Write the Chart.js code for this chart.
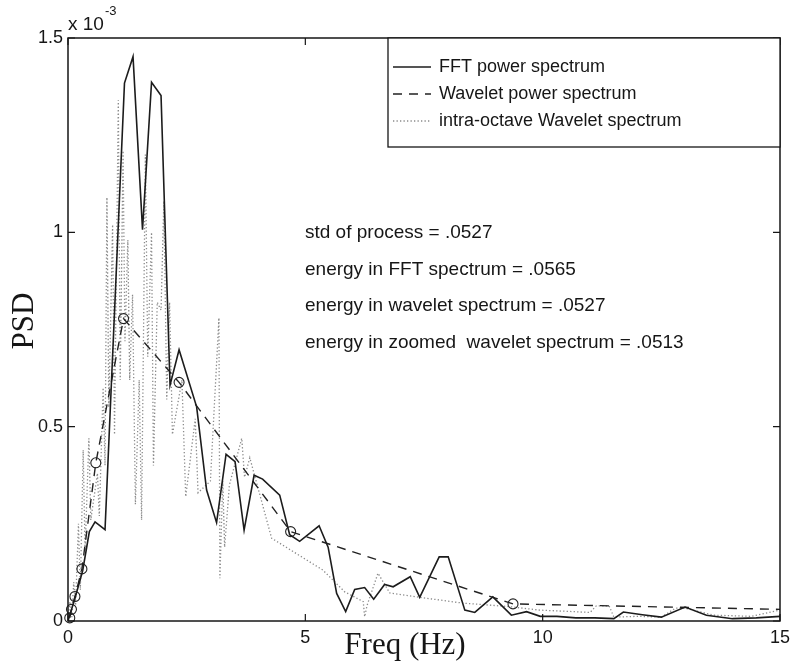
<!DOCTYPE html>
<html>
<head>
<meta charset="utf-8">
<title>PSD</title>
<script src="https://cdn.jsdelivr.net/npm/chart.js@4.4.1/dist/chart.umd.min.js"></script>
<style>
  body { margin: 0; background: #fff; }
  canvas { display: block; }
</style>
</head>
<body>
<canvas id="psdChart" width="792" height="662"></canvas>
<script>
// PSD values are in units of 1e-3
const fftFreq = [0, 0.05, 0.15, 0.31, 0.45, 0.57, 0.78, 1.19, 1.37, 1.57, 1.76, 1.96, 2.15, 2.34, 2.71, 2.92,
    3.13, 3.33, 3.52, 3.71, 3.92, 4.10, 4.46, 4.67, 4.88, 5.29, 5.48, 5.66, 5.85, 6.04, 6.25, 6.44, 6.67, 6.85,
    7.21, 7.41, 7.82, 8.01, 8.36, 8.57, 8.95, 9.34, 9.66, 9.95, 10.3, 10.7, 11.1, 11.5, 11.7, 12.1, 12.5, 13.0,
    13.45, 14.0, 14.5, 15.0];
const fftPsd = [0, 0.02, 0.06, 0.13, 0.23, 0.255, 0.235, 1.384, 1.452, 1.007, 1.386, 1.352, 0.607, 0.698, 0.551, 0.337,
    0.253, 0.429, 0.41, 0.234, 0.375, 0.365, 0.324, 0.222, 0.205, 0.245, 0.19, 0.071, 0.024, 0.081, 0.086, 0.056, 0.094, 0.088,
    0.114, 0.061, 0.165, 0.165, 0.028, 0.022, 0.062, 0.015, 0.024, 0.012, 0.012, 0.008, 0.008, 0.006, 0.023, 0.016, 0.01, 0.036,
    0.015, 0.006, 0.008, 0.012];

const waveletFreq = [0.037, 0.073, 0.146, 0.293, 0.586, 1.17, 2.34, 4.69, 9.375, 15];
const waveletPsd = [0.008, 0.03, 0.063, 0.134, 0.407, 0.778, 0.614, 0.23, 0.044, 0.03];

const intraFreq = [0, 0.04, 0.08, 0.12, 0.16, 0.22, 0.26, 0.32, 0.36, 0.44, 0.48, 0.62, 0.66, 0.74, 0.78, 0.82, 0.86,
    0.94, 0.98, 1.06, 1.10, 1.16, 1.20, 1.26, 1.30, 1.36, 1.42, 1.50, 1.55, 1.63, 1.68, 1.76, 1.80, 1.88, 1.96, 2.02,
    2.08, 2.14, 2.20, 2.40, 2.48, 2.68, 2.74, 3.00, 3.18, 3.20, 3.26, 3.30, 3.40, 3.66, 3.72, 3.83, 4.29, 5.37, 5.83,
    6.22, 6.25, 6.30, 6.53, 6.78, 7.34, 8.32, 9.30, 9.94, 10.5, 11.0, 11.13, 11.4, 11.5, 12.0, 12.5, 12.8, 13.0, 13.6,
    14.4, 15.0];
const intraPsd = [0, 0.05, 0.01, 0.10, 0.04, 0.25, 0.08, 0.44, 0.18, 0.47, 0.26, 0.38, 0.27, 0.60, 0.40, 1.09, 0.55,
    1.02, 0.48, 1.34, 0.62, 1.21, 0.72, 0.98, 0.62, 0.84, 0.30, 0.62, 0.26, 1.20, 0.68, 1.00, 0.40, 0.82, 0.80, 1.08,
    0.57, 0.82, 0.48, 0.62, 0.32, 0.52, 0.33, 0.36, 0.78, 0.11, 0.36, 0.19, 0.35, 0.47, 0.37, 0.42, 0.213, 0.131, 0.075,
    0.05, 0.011, 0.04, 0.123, 0.072, 0.062, 0.046, 0.037, 0.028, 0.025, 0.022, 0.039, 0.039, 0.01, 0.012, 0.01, 0.033, 0.033, 0.015,
    0.012, 0.028];

const xTicks = [0, 5, 10, 15];
const yTicks = [0, 0.5, 1, 1.5];

const seriesNames = ['FFT power spectrum', 'Wavelet power spectrum', 'intra-octave Wavelet spectrum'];
const notes = [
    'std of process = .0527',
    'energy in FFT spectrum = .0565',
    'energy in wavelet spectrum = .0527',
    'energy in zoomed  wavelet spectrum = .0513'
];

const sans = '"Liberation Sans", Arial, Helvetica, sans-serif';
const serif = '"Liberation Serif", "Times New Roman", serif';
const ink = '#161616';

function toPoints(xs, ys) {
    return xs.map((x, i) => ({ x: x, y: ys[i] }));
}

// box, inward ticks, legend, notes, axis labels
const matlabFrame = {
    id: 'matlabFrame',
    afterDraw(chart) {
        const ctx = chart.ctx;
        const a = chart.chartArea;
        const xs = chart.scales.x;
        const ys = chart.scales.y;
        const tick = 7;

        ctx.save();
        ctx.strokeStyle = ink;
        ctx.lineWidth = 1.5;
        ctx.strokeRect(a.left, a.top, a.right - a.left, a.bottom - a.top);

        ctx.lineWidth = 1.2;
        ctx.beginPath();
        xTicks.forEach(v => {
            const px = xs.getPixelForValue(v);
            ctx.moveTo(px, a.bottom); ctx.lineTo(px, a.bottom - tick);
            ctx.moveTo(px, a.top); ctx.lineTo(px, a.top + tick);
        });
        yTicks.forEach(v => {
            const py = ys.getPixelForValue(v);
            ctx.moveTo(a.left, py); ctx.lineTo(a.left + tick, py);
            ctx.moveTo(a.right, py); ctx.lineTo(a.right - tick, py);
        });
        ctx.stroke();

        // exponent above the y axis
        ctx.fillStyle = ink;
        ctx.textBaseline = 'alphabetic';
        ctx.textAlign = 'left';
        ctx.font = '19px ' + sans;
        ctx.fillText('x 10', a.left, 30);
        const expX = a.left + ctx.measureText('x 10').width + 1;
        ctx.font = '13px ' + sans;
        ctx.fillText('-3', expX, 15);

        // legend
        const lg = { left: 388, top: a.top, right: a.right, bottom: 147 };
        ctx.fillStyle = '#fff';
        ctx.fillRect(lg.left, lg.top, lg.right - lg.left, lg.bottom - lg.top);
        ctx.lineWidth = 1.3;
        ctx.strokeStyle = ink;
        ctx.strokeRect(lg.left, lg.top, lg.right - lg.left, lg.bottom - lg.top);
        ctx.font = '18px ' + sans;
        ctx.textBaseline = 'middle';
        chart.data.datasets.forEach((ds, i) => {
            const y = 67 + i * 27;
            ctx.save();
            ctx.strokeStyle = ds.borderColor;
            ctx.lineWidth = ds.borderWidth;
            ctx.setLineDash(ds.borderDash || []);
            ctx.beginPath();
            ctx.moveTo(393, y);
            ctx.lineTo(431, y);
            ctx.stroke();
            ctx.restore();
            ctx.fillStyle = ink;
            ctx.fillText(ds.label, 439, y);
        });

        // notes
        ctx.font = '19px ' + sans;
        ctx.textBaseline = 'alphabetic';
        notes.forEach((t, i) => ctx.fillText(t, 305, 238 + i * 36.7));

        // axis titles
        ctx.font = '31px ' + serif;
        ctx.textAlign = 'center';
        ctx.fillText('Freq (Hz)', 405, 654);
        ctx.translate(33, 321);
        ctx.rotate(-Math.PI / 2);
        ctx.fillText('PSD', 0, 0);
        ctx.restore();
    }
};

const ctx = document.getElementById('psdChart').getContext('2d');
const psdChart = new Chart(ctx, {
    type: 'line',
    data: {
        datasets: [{
            label: seriesNames[0],
            data: toPoints(fftFreq, fftPsd),
            borderColor: '#1c1c1c',
            borderWidth: 1.6,
            pointRadius: 0,
            tension: 0
        }, {
            label: seriesNames[1],
            data: toPoints(waveletFreq, waveletPsd),
            borderColor: '#222',
            borderWidth: 1.4,
            borderDash: [9, 7],
            pointRadius: waveletFreq.map((f, i) => i === waveletFreq.length - 1 ? 0 : 5),
            pointBorderWidth: 1.1,
            pointBorderColor: '#222',
            pointBackgroundColor: 'rgba(0,0,0,0)',
            clip: false,
            tension: 0
        }, {
            label: seriesNames[2],
            data: toPoints(intraFreq, intraPsd),
            borderColor: '#8a8a8a',
            borderWidth: 1.3,
            borderDash: [1.3, 2.2],
            pointRadius: 0,
            tension: 0
        }]
    },
    options: {
        responsive: false,
        animation: false,
        layout: { padding: { top: 38, right: 12, left: 0, bottom: 0 } },
        plugins: {
            legend: { display: false },
            tooltip: { enabled: false }
        },
        scales: {
            x: {
                type: 'linear',
                min: 0,
                max: 15,
                afterBuildTicks: axis => { axis.ticks = xTicks.map(v => ({ value: v })); },
                afterFit: scale => {
                    scale.height = 41;
                    scale.paddingLeft = 0;
                    scale.paddingRight = 0;
                },
                grid: { display: false, drawTicks: false },
                border: { display: false },
                ticks: {
                    color: ink,
                    font: { family: sans, size: 18 },
                    padding: 6,
                    maxRotation: 0,
                    callback: v => String(v)
                }
            },
            y: {
                min: 0,
                max: 1.5,
                afterBuildTicks: axis => { axis.ticks = yTicks.map(v => ({ value: v })); },
                afterFit: scale => {
                    scale.width = 68;
                    scale.paddingTop = 0;
                    scale.paddingBottom = 0;
                },
                grid: { display: false, drawTicks: false },
                border: { display: false },
                ticks: {
                    color: ink,
                    font: { family: sans, size: 18 },
                    padding: 5,
                    callback: v => String(v)
                }
            }
        }
    },
    plugins: [matlabFrame]
});
</script>
</body>
</html>
